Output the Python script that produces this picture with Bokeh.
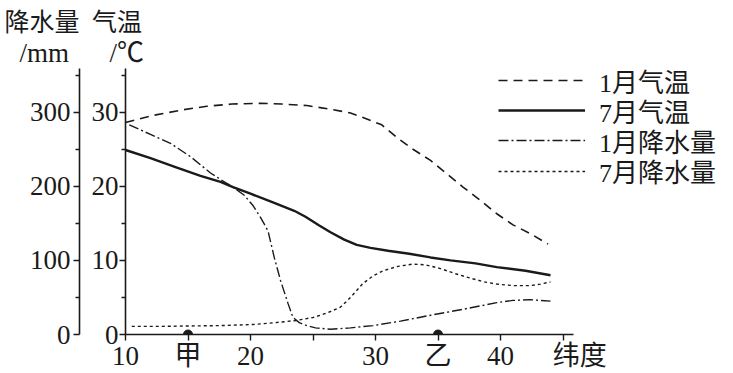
from bokeh.plotting import figure
from bokeh.models import (Range1d, LinearAxis, FixedTicker, Legend, LegendItem, Title)
from bokeh.embed import file_html
from bokeh.resources import INLINE

# ---------------- data ----------------
jan_temp_lat = [10, 12.3, 14.5, 16.5, 18.5, 20.8, 22.5, 24.5, 26.4, 28, 29, 30.5, 31.7,
                33, 34.4, 35.7, 37, 38.4, 39.7, 41, 42.4, 43.8]
jan_temp = [28.6, 29.6, 30.3, 30.8, 31.1, 31.2, 31.1, 30.9, 30.4, 29.9, 29.3, 28.3, 26.6,
            25.0, 23.5, 21.7, 19.9, 18.1, 16.3, 14.8, 13.6, 12.2]

jul_temp_lat = [10, 12, 14, 16, 17.6, 18.6, 20, 22, 23.5, 24.4, 25.5, 26.4, 27.5, 28.5,
                29.6, 31, 32.7, 34.4, 36, 38, 39.7, 42, 44]
jul_temp = [24.9, 23.8, 22.6, 21.4, 20.6, 19.9, 19.0, 17.7, 16.7, 15.9, 14.7, 13.8, 12.8,
            12.1, 11.7, 11.3, 10.9, 10.4, 10.0, 9.6, 9.1, 8.6, 8.0]

jan_prec_lat = [10.3, 12, 13.6, 15.2, 16.8, 18, 18.6, 19.5, 20.2, 20.8, 21.4, 21.9, 22.4,
                23.0, 23.4, 23.9, 24.5, 25.2, 26.4, 28, 29.8, 32, 34.4, 37, 39.7, 41,
                42.4, 44]
jan_prec = [283, 270, 258, 240, 218, 205, 199, 188, 174, 158, 140, 104, 73,
            42, 23, 16, 12, 9, 7, 9, 12, 18, 26, 34, 43, 46,
            47, 45]

jul_prec_lat = [10.5, 13, 15, 17.6, 20.2, 22, 23.7, 25, 25.6, 26.4, 27.2, 28, 29, 29.8,
                30.6, 31.8, 33, 34, 35.2, 36.4, 37.6, 38.7, 39.7, 41, 42.4, 43.2, 44]
jul_prec = [11, 11, 11.5, 12, 13.5, 16, 19, 23, 26, 31, 37, 50, 69, 79,
            86, 92, 95, 94, 89, 82, 76, 71, 68, 66, 66, 68, 71]

place_lat = [15, 35]
place_val = [0, 0]

x_label_ticks = [10, 15, 20, 30, 35, 40, 45.8]
x_tick_marks = [10, 15, 20, 25, 30, 35, 40, 45]
x_labels = {15: "甲", 35: "乙", 45.8: "\u00a0\u00a0纬度"}
t_ticks = [0, 10, 20, 30]
t_minor = [5, 15, 25, 35]
p_ticks = [0, 100, 200, 300]
p_minor = [50, 150, 250, 350]

series_names = ["1月气温", "7月气温", "1月降水量", "7月降水量"]
y_titles = ["降水量\u00a0\u00a0气温", "/mm\u3000\u00a0\u00a0/℃"]

# ---------------- layout ----------------
W, H = 733, 373
FL, FT, FB = 125, 68, 334          # frame edges in px
PX_PER_LAT = 12.5
X_END = 10 + (W - FL) / PX_PER_LAT
FONT = "Liberation Serif, Noto Sans CJK SC"
INK = "#1a1a1a"
LEGEND_ROWS_Y = [82, 112, 142, 172.5]   # text centres, px from top
LEGEND_X = 373                           # px from frame left
LEGEND_HALF = 18.25

p = figure(width=W, height=H, x_range=Range1d(10, X_END), y_range=Range1d(0, 35.9),
           output_backend="svg", toolbar_location=None,
           min_border_left=FL, min_border_right=0,
           min_border_top=FT, min_border_bottom=H - FB)
p.extra_y_ranges = {"precip": Range1d(0, 359)}
p.outline_line_color = None
p.xgrid.visible = False
p.ygrid.visible = False
p.background_fill_color = "white"
p.border_fill_color = "white"

def style_axis(ax, major_out=6, minor_out=4, standoff=2):
    ax.axis_line_color = INK
    ax.axis_line_width = 1.6
    ax.major_tick_line_color = INK
    ax.major_tick_line_width = 1.4
    ax.minor_tick_line_color = INK
    ax.minor_tick_line_width = 1.4
    ax.major_tick_in = 0
    ax.major_tick_out = major_out
    ax.minor_tick_in = 0
    ax.minor_tick_out = minor_out
    ax.major_label_text_font = FONT
    ax.major_label_text_font_size = "27px"
    ax.major_label_text_color = INK
    ax.major_label_standoff = standoff

# x axis: labels on major ticks (no marks), marks drawn as minor ticks
xa = p.xaxis[0]
style_axis(xa, major_out=0, minor_out=6, standoff=0)
xa.ticker = FixedTicker(ticks=x_label_ticks, minor_ticks=x_tick_marks)
xa.major_label_overrides = x_labels
xa.bounds = (10, 45.82)

# temperature axis (default left)
ta = p.yaxis[0]
style_axis(ta, standoff=1)
ta.ticker = FixedTicker(ticks=t_ticks, minor_ticks=t_minor)
ta.axis_label = " "
ta.axis_label_text_font_size = "5.5px"
ta.axis_label_standoff = 0
ta.bounds = (-0.9, 35.9)

# precipitation axis
pa = LinearAxis(y_range_name="precip")
style_axis(pa, standoff=3)
pa.ticker = FixedTicker(ticks=p_ticks, minor_ticks=p_minor)
pa.bounds = (-9, 359)
p.add_layout(pa, "left")

# ---------------- series ----------------
r1 = p.line(jan_temp_lat, jan_temp, line_color=INK, line_width=1.6, line_dash="9 6")
r2 = p.line(jul_temp_lat, jul_temp, line_color=INK, line_width=2.4)
r3 = p.line(jan_prec_lat, jan_prec, line_color=INK, line_width=1.4,
            line_dash="10 3 2 3", y_range_name="precip")
r4 = p.line(jul_prec_lat, jul_prec, line_color=INK, line_width=1.4,
            line_dash="3 3", y_range_name="precip")
p.scatter(place_lat, place_val, size=9, color=INK)

# one legend per row so that each row sits exactly where the reference has it
for name, rend, cy in zip(series_names, [r1, r2, r3, r4], LEGEND_ROWS_Y):
    lg = Legend(items=[LegendItem(label=name, renderers=[rend])],
                location=(LEGEND_X, FB - (cy - 1.5 + LEGEND_HALF)))
    lg.glyph_width = 87
    lg.glyph_height = 20
    lg.label_height = 20
    lg.label_standoff = 14
    lg.spacing = 0
    lg.padding = 0
    lg.margin = 0
    lg.border_line_color = None
    lg.background_fill_alpha = 0
    lg.label_text_font = FONT
    lg.label_text_font_size = "26px"
    lg.label_text_color = INK
    p.add_layout(lg, "center")

# ---------------- axis titles ----------------
t_units = Title(text=y_titles[1], align="left", offset=19 - FL, standoff=0,
                text_font=FONT, text_font_size="27px", text_font_style="normal",
                text_color=INK, vertical_align="middle")
t_names = Title(text=y_titles[0], align="left", offset=4 - FL, standoff=0,
                text_font=FONT, text_font_size="25px", text_font_style="normal",
                text_color=INK, vertical_align="middle")
p.add_layout(t_units, "above")
p.add_layout(t_names, "above")

open("out.html", "w").write(file_html(p, INLINE))
